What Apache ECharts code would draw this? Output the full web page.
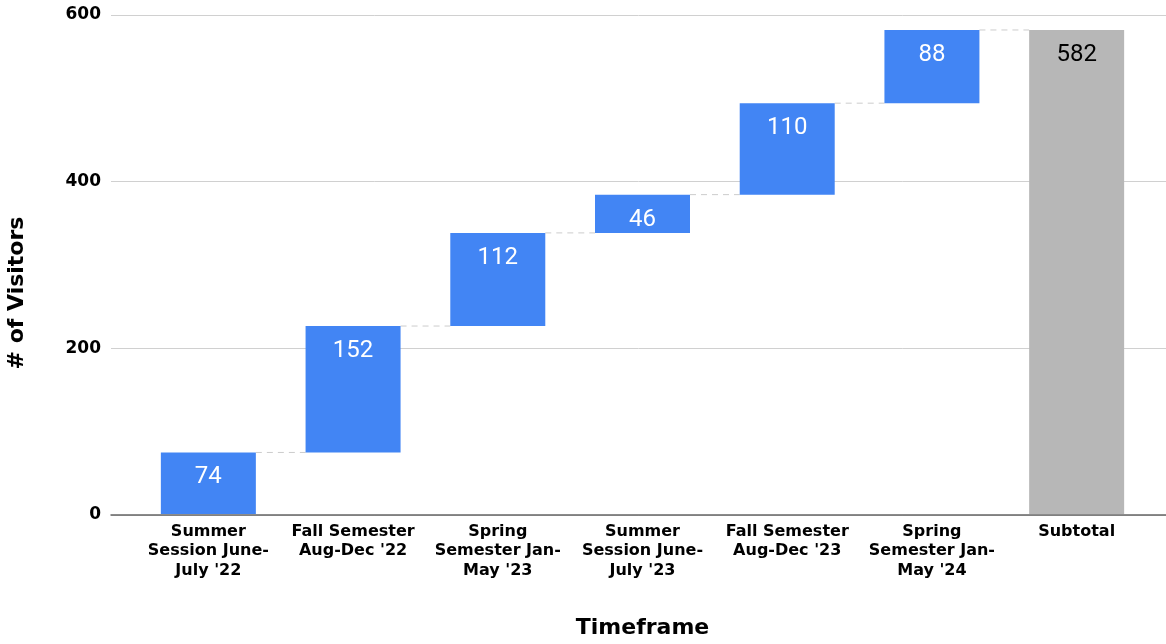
<!DOCTYPE html>
<html>
<head>
<meta charset="utf-8">
<script src="https://cdn.jsdelivr.net/npm/echarts@6/dist/echarts.min.js"></script>
<style>
  html, body { margin: 0; padding: 0; background: #ffffff; }
  #chart { width: 1166px; height: 644px; }
</style>
</head>
<body>
<div id="chart"></div>
<script>
// Visitors per timeframe, shown as a waterfall ending in a subtotal bar
const categories = [
  "Summer\nSession June-\nJuly '22",
  "Fall Semester\nAug-Dec '22",
  "Spring\nSemester Jan-\nMay '23",
  "Summer\nSession June-\nJuly '23",
  "Fall Semester\nAug-Dec '23",
  "Spring\nSemester Jan-\nMay '24",
  "Subtotal"
];
const increments = [74, 152, 112, 46, 110, 88];
const yMin = 0;
const yMax = 600;
const yStep = 200;

// running totals: the invisible base of each step and the level it reaches
const bases = [];
const levels = [];
let running = 0;
increments.forEach(function (v) {
  bases.push(running);
  running += v;
  levels.push(running);
});
const subtotal = running;

const BLUE = '#4285F4';
const GREY = '#B7B7B7';
const BAR_W = 95;
const boldFont = 'DejaVu Sans';

const baseData = bases.concat([0]);
const valueData = increments.map(function (v) {
  return { value: v, itemStyle: { color: BLUE }, label: { color: '#ffffff' } };
}).concat([{ value: subtotal, itemStyle: { color: GREY }, label: { color: '#000000' } }]);

const chart = echarts.init(document.getElementById('chart'), null, { renderer: 'canvas' });

chart.setOption({
  animation: false,
  backgroundColor: '#ffffff',
  grid: [
    // frame for the value gridlines and the zero line
    { left: 111, right: 0, top: 15, bottom: 129 },
    // frame for the category columns
    { left: 136, right: 17, top: 15, bottom: 129 }
  ],
  xAxis: [
    {
      gridIndex: 0, type: 'value', min: 0, max: 1,
      axisLine: { show: true, onZero: false, lineStyle: { color: '#666666', width: 1.5 } },
      axisTick: { show: false }, axisLabel: { show: false }, splitLine: { show: false }
    },
    {
      gridIndex: 1, type: 'category', data: categories,
      axisLine: { show: false }, axisTick: { show: false },
      axisLabel: {
        interval: 0, margin: 8,
        fontFamily: boldFont, fontWeight: 'bold', fontSize: 16, lineHeight: 19.5,
        color: '#000000', align: 'center'
      },
      name: 'Timeframe', nameLocation: 'middle', nameGap: 103,
      nameTextStyle: { fontFamily: boldFont, fontWeight: 'bold', fontSize: 22, color: '#000000' }
    }
  ],
  yAxis: [
    {
      gridIndex: 0, type: 'value', min: yMin, max: yMax, interval: yStep,
      axisLine: { show: false }, axisTick: { show: false },
      axisLabel: { margin: 10, fontFamily: boldFont, fontWeight: 'bold', fontSize: 17, color: '#000000' },
      splitLine: { show: true, lineStyle: { color: '#d0d0d0', width: 1 } }
    },
    {
      gridIndex: 1, type: 'value', min: yMin, max: yMax, interval: yStep,
      show: false, splitLine: { show: false }
    }
  ],
  graphic: [
    {
      type: 'text', x: 17, y: 293, rotation: Math.PI / 2,
      style: {
        text: '# of Visitors', fill: '#000000',
        font: 'bold 22px "DejaVu Sans"', textAlign: 'center', textVerticalAlign: 'middle'
      }
    }
  ],
  series: [
    // dashed connectors from each step to the next column
    {
      type: 'custom', xAxisIndex: 1, yAxisIndex: 1, z: 1,
      data: levels.map(function (v, i) { return [i, v]; }),
      renderItem: function (params, api) {
        const i = api.value(0);
        const level = api.value(1);
        const a = api.coord([i, level]);
        const b = api.coord([i + 1, level]);
        return {
          type: 'line',
          shape: { x1: a[0] + BAR_W / 2, y1: a[1], x2: b[0] - BAR_W / 2, y2: b[1] },
          style: { stroke: '#cccccc', lineWidth: 1, lineDash: [6, 5] }
        };
      }
    },
    {
      type: 'bar', xAxisIndex: 1, yAxisIndex: 1, stack: 'fall',
      barWidth: BAR_W, silent: true,
      itemStyle: { color: 'transparent' },
      data: baseData
    },
    {
      type: 'bar', xAxisIndex: 1, yAxisIndex: 1, stack: 'fall',
      barWidth: BAR_W, z: 3,
      label: {
        show: true, position: 'insideTop', distance: 13,
        fontFamily: 'Roboto', fontSize: 24
      },
      data: valueData
    }
  ]
});
</script>
</body>
</html>
